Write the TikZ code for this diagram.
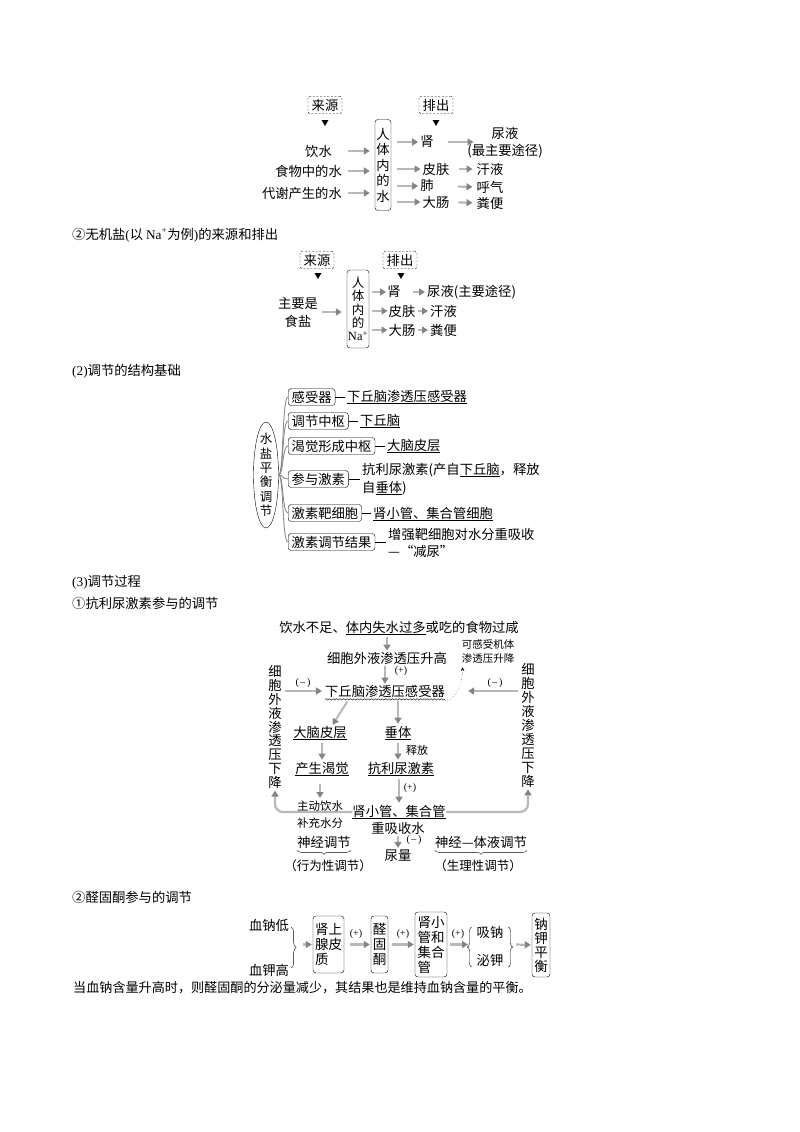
\documentclass[tikz,border=0pt]{standalone}
\usepackage{fontspec}
\setmainfont{Noto Sans CJK SC}
\newfontfamily\lat{Liberation Serif}
\usetikzlibrary{arrows.meta,shapes.geometric,decorations.pathmorphing,decorations.pathreplacing,calc}
\newcommand{\fsz}[2]{\fontsize{#1}{#2}\selectfont}
\begin{document}
\begin{tikzpicture}[x=1pt,y=-1pt,
  every node/.style={inner sep=0pt, font=\fsz{13.3}{16}},
  sm/.style={font=\lat\fsz{10}{12}},
  dbox/.style={draw, dash pattern=on 2pt off 1.6pt, rounded corners=2pt, minimum width=34pt, minimum height=17pt},
  tri/.style={regular polygon, regular polygon sides=3, shape border rotate=180, fill=black, minimum size=8pt},
  vbox/.style={draw, rounded corners=3pt, align=center},
  garr/.style={draw=black!28, line width=2.2pt, -{Triangle[length=6pt,width=7pt,color=black!48]}},
  gline/.style={draw=black!45, line width=0.9pt},
  hbox/.style={draw, rounded corners=3pt, inner xsep=3.5pt, minimum height=17pt, anchor=west},
]
\useasboundingbox[fill=white] (0,0) rectangle (800,1132);
% ---------- water sources and outputs ----------
\node[dbox] (src1) at (325,105) {来源};
\node[tri] (tri1) at (325,122) {};
\node[dbox] (out1) at (436,105) {排出};
\node[tri] (tri2) at (436,122) {};
\node[vbox, minimum width=16pt, minimum height=91pt, font=\fsz{13.3}{15.5}] (body1) at (383,165) {人\\体\\内\\的\\水};
\node[anchor=east] (s1) at (332,151) {饮水};
\node[anchor=east] (s2) at (342,171) {食物中的水};
\node[anchor=east] (s3) at (342,193) {代谢产生的水};
\draw[garr, shorten <=16pt, shorten >=5pt] (s1.east) -- (s1.east -| body1.west);
\draw[garr, shorten <=6pt, shorten >=5pt] (s2.east) -- (s2.east -| body1.west);
\draw[garr, shorten <=6pt, shorten >=5pt] (s3.east) -- (s3.east -| body1.west);
\node (k1) at (427,142) {肾};
\node (k2) at (436,169) {皮肤};
\node (k3) at (427,186) {肺};
\node (k4) at (436,202) {大肠};
\foreach \k in {k1,k2,k3,k4} \draw[garr, shorten <=6pt, shorten >=2pt] (body1.east |- \k.west) -- (\k.west);
\node (r1) at (505,133) {尿液};
\node (r1b) at (505,151) {(最主要途径)};
\node (r2) at (490,169) {汗液};
\node (r3) at (490,187) {呼气};
\node (r4) at (490,203) {粪便};
\draw[garr, shorten <=14pt, shorten >=18pt] (k1.east) -- (k1.east -| r1.west);
\draw[garr, shorten <=9pt, shorten >=4pt] (k2.east) -- (r2.west);
\draw[garr, shorten <=24pt, shorten >=4pt] (k3.east) -- (r3.west);
\draw[garr, shorten <=9pt, shorten >=4pt] (k4.east) -- (r4.west);
% ---------- Na ----------
\node[anchor=west] (title2) at (72,235) {②无机盐{\lat (}以 {\lat Na\textsuperscript{+}}为例{\lat )}的来源和排出};
\node[dbox] (src2) at (317,260) {来源};
\node[tri] (tri3) at (318,275) {};
\node[dbox] (out2) at (400,260) {排出};
\node[tri] (tri4) at (401,275) {};
\node[vbox, minimum width=22pt, minimum height=78pt, font=\fsz{12.5}{13.3}] (body2) at (358,309) {人\\体\\内\\的\\{\lat Na\textsuperscript{+}}};
\node[align=center, font=\fsz{13.3}{18}] (salt) at (298,312) {主要是\\食盐};
\draw[garr, shorten <=4pt, shorten >=5pt] (salt.east) -- (salt.east -| body2.west);
\node (n1) at (394,292) {肾};
\node (n2) at (402,311) {皮肤};
\node (n3) at (402,330) {大肠};
\foreach \n in {n1,n2,n3} \draw[garr, shorten <=3pt, shorten >=1pt] (body2.east |- \n.west) -- (\n.west);
\node[anchor=west] (m1) at (427,292) {尿液(主要途径)};
\node[anchor=west] (m2) at (430,311) {汗液};
\node[anchor=west] (m3) at (430,330) {粪便};
\draw[garr, shorten <=12pt, shorten >=2pt] (n1.east) -- (m1.west);
\draw[garr, shorten <=2pt, shorten >=2pt] (n2.east) -- (m2.west);
\draw[garr, shorten <=2pt, shorten >=2pt] (n3.east) -- (m3.west);
% ---------- (2) structure ----------
\node[anchor=west] (title3) at (72,371) {{\lat (2)}调节的结构基础};
\node[ellipse, draw, minimum width=25pt, minimum height=106pt] (ell) at (266,475) {};
\node[align=center, font=\fsz{12.5}{14.4}] (elltext) at (ell.center) {水\\盐\\平\\衡\\调\\节};
\node[hbox] (b1) at (288,397) {感受器};
\node[hbox] (b2) at (288,421) {调节中枢};
\node[hbox] (b3) at (288,446) {渴觉形成中枢};
\node[hbox] (b4) at (288,479) {参与激素};
\node[hbox] (b5) at (288,513) {激素靶细胞};
\node[hbox] (b6) at (288,542) {激素调节结果};
\foreach \b in {b1,b2,b3,b4,b5,b6} \draw[gline] (ell.east) .. controls +(5,0) and +(-6,0) .. (\b.west);
\node[anchor=west] (d1) at (347,397) {\underline{下丘脑渗透压感受器}};
\node[anchor=west] (d2) at (360,421) {\underline{下丘脑}};
\node[anchor=west] (d3) at (387,446) {\underline{大脑皮层}};
\node[anchor=west, align=left, font=\fsz{13.3}{18}] (d4) at (362,479) {抗利尿激素(产自\underline{下丘脑}，释放\\自\underline{垂体})};
\node[anchor=west] (d5) at (373,514) {\underline{肾小管、集合管细胞}};
\node[anchor=west, align=left, font=\fsz{13.3}{17}] (d6) at (388,543) {增强靶细胞对水分重吸收\\—“减尿”};
\foreach \i in {1,...,6} \draw[shorten >=2pt] (b\i.east) -- (b\i.east -| d\i.west);
% ---------- (3) process ----------
\node[anchor=west] (title4) at (72,582) {{\lat (3)}调节过程};
\node[anchor=west] (title5) at (72,603) {①抗利尿激素参与的调节};
\node (p1) at (399,628) {饮水不足、\underline{体内失水过多}或吃的食物过咸};
\node (p2) at (387,658) {细胞外液渗透压升高};
\draw[garr, line width=2pt, shorten <=2pt, shorten >=1pt] (p1.south -| p2.north) -- (p2.north);
\node[sm] (pl1) at (401,671) {(+)};
\node (p3) at (385,691) {下丘脑渗透压感受器};
\draw[decorate, decoration={snake, amplitude=0.7pt, segment length=3.5pt}] ([yshift=-2pt]p3.south west) -- ([yshift=-2pt]p3.south east);
\draw[garr, line width=2pt, shorten <=2pt, shorten >=1pt] (p3.north |- p2.south) -- (p3.north);
\node[align=center, font=\fsz{10.5}{14}] (hand) at (488,651) {可感受机体\\渗透压升降};
\draw[dotted, -{Stealth[length=4pt,width=3.5pt]}] ([yshift=-3pt]p3.south east) .. controls +(13,0) and +(0,14) .. ([xshift=1pt,yshift=-4pt]hand.south west);
\node[align=center, font=\fsz{13.3}{13.8}] (L) at (275,727) {细\\胞\\外\\液\\渗\\透\\压\\下\\降};
\node[align=center, font=\fsz{13.3}{14}] (R) at (528,725) {细\\胞\\外\\液\\渗\\透\\压\\下\\降};
\node[sm] (mi1) at (303,683) {(\,–\,)};
\node[sm] (mi2) at (495,683) {(\,–\,)};
\draw[garr, shorten <=3pt, shorten >=3pt] (L.east |- p3.west) -- (p3.west);
\draw[garr, shorten <=3pt, shorten >=23pt] (R.west |- p3.east) -- (p3.east);
\node (p4) at (320,733) {\underline{大脑皮层}};
\node (p5) at (398,733) {\underline{垂体}};
\draw[garr, line width=2pt, shorten <=5pt, shorten >=1pt] ([xshift=-35pt]p3.south) -- ([xshift=12pt]p4.north);
\draw[garr, line width=2pt, shorten <=4pt, shorten >=2pt] (p5.north |- p3.south) -- (p5.north);
\node[font=\fsz{11}{13}] (rel) at (417,750) {释放};
\node (p6) at (322,769) {\underline{产生渴觉}};
\node (p7) at (401,769) {\underline{抗利尿激素}};
\draw[garr, line width=2pt, shorten <=3pt, shorten >=2pt] (p6.north |- p4.south) -- (p6.north);
\draw[garr, line width=2pt, shorten <=3pt, shorten >=2pt] (p5.south) -- (p5.south |- p7.north);
\node[align=center, font=\fsz{11.5}{17}] (p8) at (320,815) {主动饮水\\补充水分};
\draw[garr, line width=2pt, shorten <=8pt, shorten >=3pt] (p8.north |- p6.south) -- (p8.north);
\node[sm] (pl2) at (410,788) {(+)};
\node (p9) at (399,812) {\underline{肾小管、集合管}};
\node (p10) at (398,828) {重吸收水};
\draw[garr, line width=2pt, shorten <=3pt, shorten >=2pt] (p9.north |- p7.south) -- (p9.north);
\draw[garr, rounded corners=8pt, shorten >=2pt] (p9.west) -| (L.south);
\draw[garr, rounded corners=8pt, shorten >=2pt] (p9.east) -| (R.south);
\node (p11) at (324,842) {神经调节};
\node[sm] (mi3) at (414,840) {(\,–\,)};
\node (p12) at (398,856) {尿量};
\draw[garr, line width=2pt, shorten <=2pt, shorten >=2pt] (p10.south) -- (p12.north);
\node (p13) at (481,842) {神经—体液调节};
\draw[decorate, decoration={brace, mirror, amplitude=4pt}] ([yshift=-2pt]p11.south west) -- ([yshift=-2pt]p11.south east);
\node[font=\fsz{12.5}{14}] (p14) at (328,866) {（行为性调节）};
\draw[decorate, decoration={brace, mirror, amplitude=4pt}] ([yshift=-2pt]p13.south west) -- ([yshift=-2pt]p13.south east);
\node[font=\fsz{12.5}{14}] (p15) at (478,866) {（生理性调节）};
% ---------- aldosterone ----------
\node[anchor=west] (title6) at (72,897) {②醛固酮参与的调节};
\node (q1) at (269,925) {血钠低};
\node (q2) at (269,970) {血钾高};
\draw[decorate, decoration={brace, amplitude=5pt}] ([xshift=2pt,yshift=-2pt]q1.east) -- ([xshift=2pt,yshift=2pt]q2.east);
\coordinate (bt3) at (300,944.5);
\node[vbox, align=left, minimum width=31pt, minimum height=57pt, font=\fsz{13.5}{15}] (A1) at (328.5,944.5) {肾上\\腺皮\\质};
\node[vbox, minimum width=17pt, minimum height=57pt, font=\fsz{13.5}{15}] (A2) at (379.5,944.5) {醛\\固\\酮};
\node[vbox, align=left, minimum width=32pt, minimum height=65pt, font=\fsz{13.5}{15}] (A3) at (431,944.5) {肾小\\管和\\集合\\管};
\node (r5) at (490,932) {吸钠};
\node (r6) at (490,960) {泌钾};
\node[vbox, minimum width=18pt, minimum height=64pt, font=\fsz{13.5}{14}] (A5) at (541,945) {钠\\钾\\平\\衡};
\node[sm] (pl3) at (356,934) {(+)};
\node[sm] (pl4) at (403,934) {(+)};
\node[sm] (pl5) at (458,934) {(+)};
\draw[garr, shorten <=3pt, shorten >=1pt] (bt3) -- (A1.west);
\draw[garr, shorten <=6pt, shorten >=1pt] (A1.east) -- (A2.west);
\draw[garr, shorten <=4pt, shorten >=1pt] (A2.east) -- (A3.west);
\coordinate (bt4) at (468,944.5);
\draw[garr, shorten <=3pt] (A3.east) -- (bt4);
\draw[decorate, decoration={brace, amplitude=4pt}] ([xshift=-5pt,yshift=-7pt]r6.west) -- ([xshift=-5pt,yshift=5pt]r5.west);
\draw[decorate, decoration={brace, amplitude=4pt}] ([xshift=5pt,yshift=5pt]r5.east) -- ([xshift=5pt,yshift=-7pt]r6.east);
\coordinate (bt5) at (516,944.5);
\draw[garr, shorten >=1pt] (bt5) -- (A5.west);
\node[anchor=west, font=\fsz{13.1}{16}] (fin) at (73,988) {当血钠含量升高时，则醛固酮的分泌量减少，其结果也是维持血钠含量的平衡。};
\end{tikzpicture}
\end{document}
